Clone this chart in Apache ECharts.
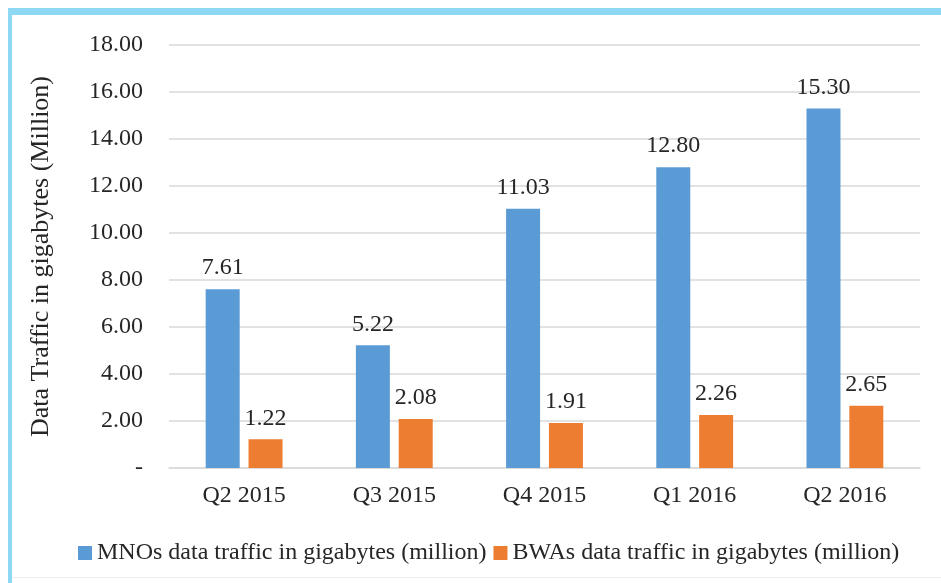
<!DOCTYPE html>
<html>
<head>
<meta charset="utf-8">
<script src="https://cdn.jsdelivr.net/npm/echarts@6/dist/echarts.min.js"></script>
<style>
  html, body { margin: 0; padding: 0; background: #fff; }
  #frame { position: absolute; left: 0; top: 0; width: 941px; height: 583px; }
  #bt { position: absolute; left: 8px; top: 8px; width: 933px; height: 7px; background: #8dd8f3; }
  #bl { position: absolute; left: 8px; top: 8px; width: 4px; height: 575px; background: #8dd8f3; }
  #bb { position: absolute; left: 12px; top: 577px; width: 929px; height: 1px; background: #ececec; }
  #main { position: absolute; left: 0; top: 0; width: 941px; height: 583px; }
</style>
</head>
<body>
<div id="frame"><div id="bt"></div><div id="bl"></div><div id="bb"></div></div>
<div id="main"></div>
<script>
var quarters = ['Q2 2015', 'Q3 2015', 'Q4 2015', 'Q1 2016', 'Q2 2016'];
var mnoTraffic = [7.61, 5.22, 11.03, 12.80, 15.30];
var bwaTraffic = [1.22, 2.08, 1.91, 2.26, 2.65];
var seriesNames = ['MNOs data traffic in gigabytes (million)', 'BWAs data traffic in gigabytes (million)'];

var myChart = echarts.init(document.getElementById('main'));
var font = 'Liberation Serif, Times New Roman, serif';

var labelStyle = {
    show: true,
    position: 'top',
    distance: 9,
    fontFamily: font,
    fontSize: 24,
    color: '#262626',
    formatter: function (p) { return p.value.toFixed(2); }
};

var option = {
    backgroundColor: 'transparent',
    animation: false,
    textStyle: { fontFamily: font },
    grid: { left: 169, right: 21, top: 45, bottom: 115 },
    legend: {
        left: 73,
        top: 536,
        itemWidth: 14,
        itemHeight: 14,
        itemGap: 7,
        icon: 'rect',
        textStyle: { fontFamily: font, fontSize: 24, color: '#262626' },
        data: seriesNames
    },
    xAxis: {
        type: 'category',
        data: quarters,
        axisLine: { lineStyle: { color: '#d9d9d9', width: 1.5 } },
        axisTick: { show: false },
        axisLabel: { fontFamily: font, fontSize: 24, color: '#262626', margin: 16 }
    },
    yAxis: {
        type: 'value',
        min: 0,
        max: 18,
        interval: 2,
        name: 'Data Traffic in gigabytes (Million)',
        nameLocation: 'middle',
        nameGap: 115,
        nameTextStyle: { fontFamily: font, fontSize: 26, color: '#262626' },
        axisLine: { show: false },
        axisTick: { show: false },
        splitLine: { lineStyle: { color: '#d9d9d9', width: 1.5 } },
        axisLabel: {
            fontFamily: font,
            fontSize: 24,
            color: '#262626',
            margin: 26,
            formatter: function (v) { return v === 0 ? '-' : v.toFixed(2); }
        }
    },
    series: [
        {
            name: seriesNames[0],
            type: 'bar',
            data: mnoTraffic,
            barWidth: 34,
            barGap: '26%',
            itemStyle: { color: '#5b9bd5' },
            label: labelStyle
        },
        {
            name: seriesNames[1],
            type: 'bar',
            data: bwaTraffic,
            barWidth: 34,
            itemStyle: { color: '#ed7d31' },
            label: labelStyle
        }
    ]
};

myChart.setOption(option);
</script>
</body>
</html>
